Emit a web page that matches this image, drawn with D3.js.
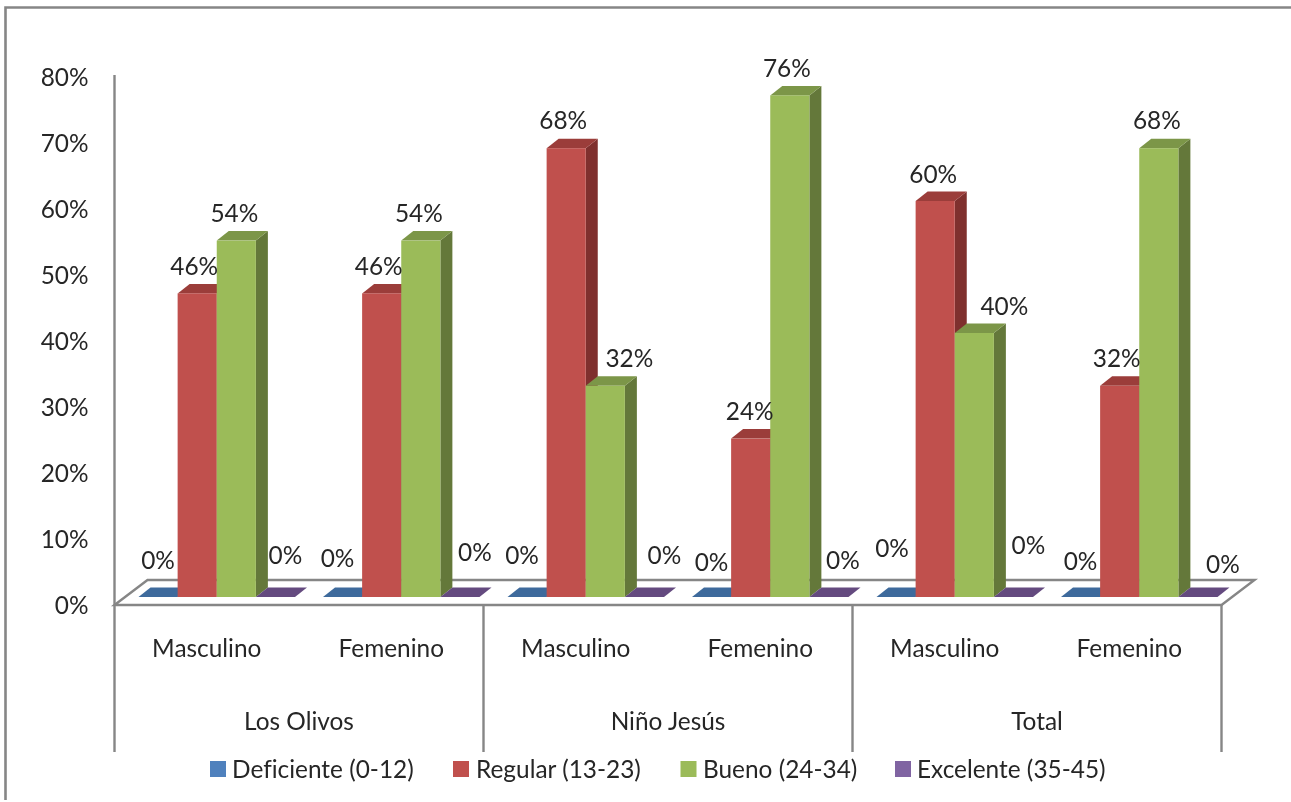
<!DOCTYPE html>
<html><head><meta charset="utf-8">
<script src="https://cdn.jsdelivr.net/npm/d3@7"></script>
<style>
html,body{margin:0;padding:0;background:#fff}
svg{display:block;filter:blur(.45px)}
text{font-family:Lato,"Open Sans",sans-serif;fill:#262626;font-variant-ligatures:none}
</style></head><body>
<svg id="c" width="1291" height="802"></svg>
<script>
const groups = ["Los Olivos", "Niño Jesús", "Total"];
const categories = ["Masculino", "Femenino", "Masculino", "Femenino", "Masculino", "Femenino"];
const seriesNames = ["Deficiente (0-12)", "Regular (13-23)", "Bueno (24-34)", "Excelente (35-45)"];
const deficiente = [0, 0, 0, 0, 0, 0];
const regular = [46, 46, 68, 24, 60, 32];
const bueno = [54, 54, 32, 76, 40, 68];
const excelente = [0, 0, 0, 0, 0, 0];
const yTicks = [0, 10, 20, 30, 40, 50, 60, 70, 80];

// presentation: hand-placed label nudges, one [dx, dy] per bar, as in the reference
const nudgeDeficiente = [[0,-37],[-5,-39],[-5,-42],[0,-35],[-4,-49],[0,-36]];
const nudgeRegular = [[-3,-27],[-3,-27],[-3,-28],[-1,-27],[-2,-27],[-3,-28]];
const nudgeBueno = [[-2,-27],[-2,-27],[24,-28],[-3,-27],[30,-27],[-2,-28]];
const nudgeExcelente = [[10,-42],[15,-45],[20,-42],[14,-37],[15,-52],[25,-33]];
const fills = [
  {front:"#4F81BD", top:"#3E6A9C", side:"#385D8A", key:"#4F81BD"},
  {front:"#C0504D", top:"#9B3D3A", side:"#7F302E", key:"#C0504D"},
  {front:"#9BBB59", top:"#7C9648", side:"#64783A", key:"#9BBB59"},
  {front:"#8064A2", top:"#644A7F", side:"#523C69", key:"#8064A2"}
];
const values = [deficiente, regular, bueno, excelente];
const nudges = [nudgeDeficiente, nudgeRegular, nudgeBueno, nudgeExcelente];
const FS = 24.4;

const svg = d3.select("#c");
const GRAY = "#868686";
const axisLeftX = 114.5, axisRightX = 1221.5;
const floorFront = 605, floorBack = 580, floorDx = 33;
const barShift = 10, baseLift = 8, depthX = 12, depthY = 9.5;

const y = d3.scaleLinear().domain([0, 80]).range([floorFront, 77]);
const xCat = d3.scaleBand().domain(d3.range(6)).range([axisLeftX, axisRightX]);
const xSeries = d3.scaleBand().domain(d3.range(4)).range([14, 170.5]);
const xGroup = d3.scaleBand().domain(d3.range(3)).range([axisLeftX, axisRightX]);

// chart frame (top and left only)
svg.append("path").attr("d", "M5.5,800V7.5H1291").attr("fill", "none").attr("stroke", GRAY).attr("stroke-width", 2.6);

// floor
svg.append("path")
  .attr("d", `M${axisLeftX},${floorFront}L${axisLeftX+floorDx},${floorBack}L${axisRightX+floorDx},${floorBack}L${axisRightX},${floorFront}Z`)
  .attr("fill", "#fff").attr("stroke", GRAY).attr("stroke-width", 2.4).attr("stroke-linejoin","miter");

// axes lines
svg.append("line").attr("x1", axisLeftX).attr("x2", axisLeftX).attr("y1", 75).attr("y2", 752)
  .attr("stroke", GRAY).attr("stroke-width", 2.4);
xGroup.domain().forEach(i => {
  const xx = xGroup(i) + xGroup.bandwidth();
  svg.append("line").attr("x1", xx).attr("x2", xx).attr("y1", floorFront).attr("y2", 752)
    .attr("stroke", GRAY).attr("stroke-width", 2.4);
});

// y axis
const yAxis = svg.append("g").attr("transform", "translate(88.5,0)")
  .call(d3.axisLeft(y).tickValues(yTicks).tickSize(0).tickPadding(0).tickFormat(d => d + "%"));
yAxis.select(".domain").remove();
yAxis.selectAll("text").attr("font-size", FS).style("font-family", "Lato").attr("dy", "0.36em");

// bars
const barG = svg.append("g");
const pts = a => a.map(p => p.join(",")).join(" ");
categories.forEach((c, ci) => {
  values.forEach((vals, si) => {
    const v = vals[ci], f = fills[si];
    const x0 = xCat(ci) + barShift + xSeries(si), w = xSeries.bandwidth();
    const yt = y(v) - baseLift, yb = y(0) - baseLift;
    const x1 = x0 + w;
    const g = barG.append("g");
    if (v > 0) {
      g.append("polygon").attr("points", pts([[x1,yt],[x1+depthX,yt-depthY],[x1+depthX,yb-depthY],[x1,yb]])).attr("fill", f.side);
    }
    g.append("polygon").attr("points", pts([[x0,yt],[x0+depthX,yt-depthY],[x1+depthX,yt-depthY],[x1,yt]])).attr("fill", f.top);
    if (v > 0) g.append("rect").attr("x", x0).attr("y", yt).attr("width", w).attr("height", yb - yt).attr("fill", f.front);
  });
});

// value labels
categories.forEach((c, ci) => {
  values.forEach((vals, si) => {
    const v = vals[ci], n = nudges[si][ci];
    const cx = xCat(ci) + barShift + xSeries(si) + xSeries.bandwidth() / 2;
    svg.append("text").attr("x", cx + n[0]).attr("y", y(v) - baseLift + n[1])
      .attr("dy", "0.36em").attr("text-anchor", "middle").attr("font-size", FS).text(v + "%");
  });
});

// category labels
categories.forEach((c, i) => {
  svg.append("text").attr("x", xCat(i) + xCat.bandwidth() / 2).attr("y", 648).attr("dy", "0.36em")
    .attr("text-anchor", "middle").attr("font-size", FS).text(c);
});
groups.forEach((g, i) => {
  svg.append("text").attr("x", xGroup(i) + xGroup.bandwidth() / 2).attr("y", 721).attr("dy", "0.36em")
    .attr("text-anchor", "middle").attr("font-size", FS).text(g);
});

// legend
const legendSwatchX = [210, 453, 680.5, 895];
const legendTextX = [232, 476, 703, 917];
seriesNames.forEach((s, i) => {
  svg.append("rect").attr("x", legendSwatchX[i]).attr("y", 761).attr("width", 16).attr("height", 16).attr("fill", fills[i].key);
  svg.append("text").attr("x", legendTextX[i]).attr("y", 769).attr("dy", "0.36em").attr("font-size", FS).text(s);
});
</script>
</body></html>
